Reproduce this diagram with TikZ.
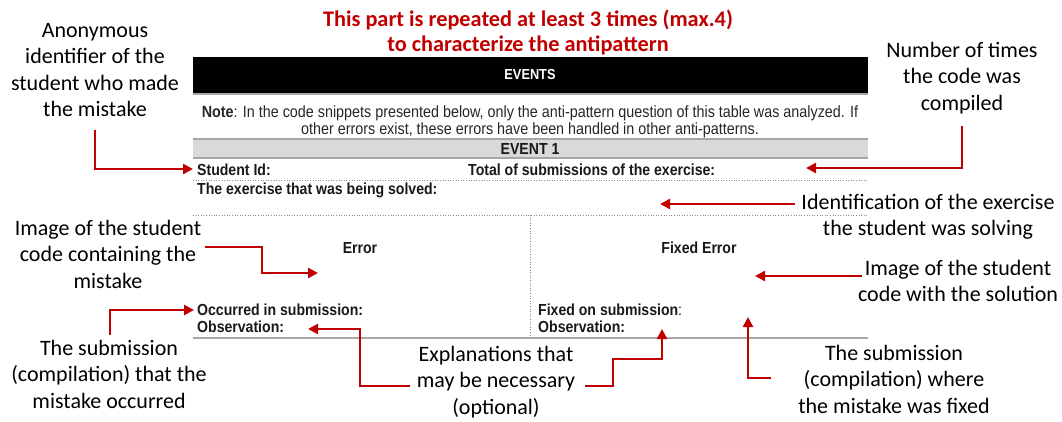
\documentclass[tikz,border=0pt]{standalone}
\usepackage{fontspec}
\setmainfont{Carlito}
\newfontfamily\tabfont[FakeStretch=0.88]{Liberation Sans}
\usetikzlibrary{arrows.meta}
\definecolor{myred}{HTML}{C00000}
\definecolor{bandgray}{HTML}{D9D9D9}
\definecolor{linegray}{HTML}{A6A6A6}
\begin{document}
\begin{tikzpicture}[x=1pt,y=-1pt,
 ann/.style={font=\fontsize{22}{26.5}\selectfont, align=center, inner sep=0pt},
 ttl/.style={font=\bfseries\fontsize{22.3}{25}\selectfont, text=myred, align=center, inner sep=0pt},
 lbl/.style={font=\tabfont\bfseries\fontsize{16}{18}\selectfont, inner sep=0pt, text=black!90},
 notetxt/.style={font=\tabfont\fontsize{16.3}{17}\selectfont, align=center, inner sep=0pt, text=black!85},
 rarrow/.style={draw=myred, line width=2.5pt, -{Triangle[length=10pt,width=10pt]}},
 rulegray/.style={draw=linegray, line width=1.5pt},
 dotline/.style={draw=black!45, line width=0.6pt, dotted}]
\useasboundingbox (0,0) rectangle (1062,421);
% title
\node[ttl] (title) at (528,32.5) {This part is repeated at least 3 times (max.4)\\to characterize the antipattern};
% table
\fill[black] (193,57) rectangle (868,93);
\draw[rulegray] (193,94) -- (868,94);
\node[lbl, text=white, font=\tabfont\bfseries\fontsize{14.5}{16}\selectfont] (events) at (530,75) {EVENTS};
\node[notetxt] (note) at (530,121.5) {\textbf{Note}: In the code snippets presented below, only the anti-pattern question of this table was analyzed. If\\other errors exist, these errors have been handled in other anti-patterns.};
\fill[bandgray] (193,139) rectangle (868,158);
\draw[rulegray] (193,139) -- (868,139);
\draw[rulegray] (193,158) -- (868,158);
\node[lbl] (event1) at (530,149) {EVENT 1};
\node[lbl, anchor=base west] (sid) at (197,175.5) {Student Id:};
\node[lbl, anchor=base west] (tot) at (468,175.5) {Total of submissions of the exercise:};
\draw[dotline] (193,180) -- (868,180);
\node[lbl, anchor=base west] (exer) at (197,194.5) {The exercise that was being solved:};
\draw[dotline] (193,215) -- (868,215);
\draw[dotline] (530,215) -- (530,338);
\node[lbl] (err) at (360,248) {Error};
\node[lbl] (ferr) at (699,248) {Fixed Error};
\node[lbl, anchor=base west] (occ) at (197,315) {Occurred in submission:};
\node[lbl, anchor=base west] (obs1) at (197,332.5) {Observation:};
\node[lbl, anchor=base west] (fix) at (538,315) {Fixed on submission\textmd{:}};
\node[lbl, anchor=base west] (obs2) at (538,332.5) {Observation:};
\draw[rulegray] (193,338) -- (868,338);
% annotations
\node[ann] (anon) at (95,70) {Anonymous\\identifier of the\\student who made\\the mistake};
\node[ann] (times) at (962,78) {Number of times\\the code was\\compiled};
\node[ann] (ident) at (928,216.5) {Identification of the exercise\\the student was solving};
\node[ann] (imgerr) at (108,254) {Image of the student\\code containing the\\mistake};
\node[ann] (imgfix) at (958,281) {Image of the student\\code with the solution};
\node[ann] (subocc) at (109,374) {The submission\\(compilation) that the\\mistake occurred};
\node[ann] (expl) at (496,382) {Explanations that\\may be necessary\\(optional)};
\node[ann] (subfix) at (894,379) {The submission\\(compilation) where\\the mistake was fixed};
% connector points
\coordinate (c1s) at (95,130);   \coordinate (c1t) at (193,169);
\coordinate (c2s) at (962,126);  \coordinate (c2t) at (806,168);
\coordinate (c3s) at (795,204);  \coordinate (c3t) at (660,204);
\coordinate (c4s) at (205,247);  \coordinate (c4m) at (262,273); \coordinate (c4t) at (318,273);
\coordinate (c5s) at (862,276);  \coordinate (c5t) at (755,276);
\coordinate (c6s) at (110,335);  \coordinate (c6t) at (194,310);
\coordinate (c7s) at (410,386);  \coordinate (c7m) at (360,329); \coordinate (c7t) at (308,329);
\coordinate (c8s) at (585,386);  \coordinate (c8m) at (613,359); \coordinate (c8t) at (662,329);
\coordinate (c9s) at (771,378);  \coordinate (c9t) at (748,317);
% connectors
\draw[rarrow] (c1s) |- (c1t);
\draw[rarrow] (c2s) |- (c2t);
\draw[rarrow] (c3s) -- (c3t);
\draw[rarrow] (c4s) -| (c4m) -- (c4t);
\draw[rarrow] (c5s) -- (c5t);
\draw[rarrow] (c6s) |- (c6t);
\draw[rarrow] (c7s) -| (c7m) -- (c7t);
\draw[rarrow] (c8s) -| (c8m) -| (c8t);
\draw[rarrow] (c9s) -| (c9t);
\end{tikzpicture}
\end{document}
